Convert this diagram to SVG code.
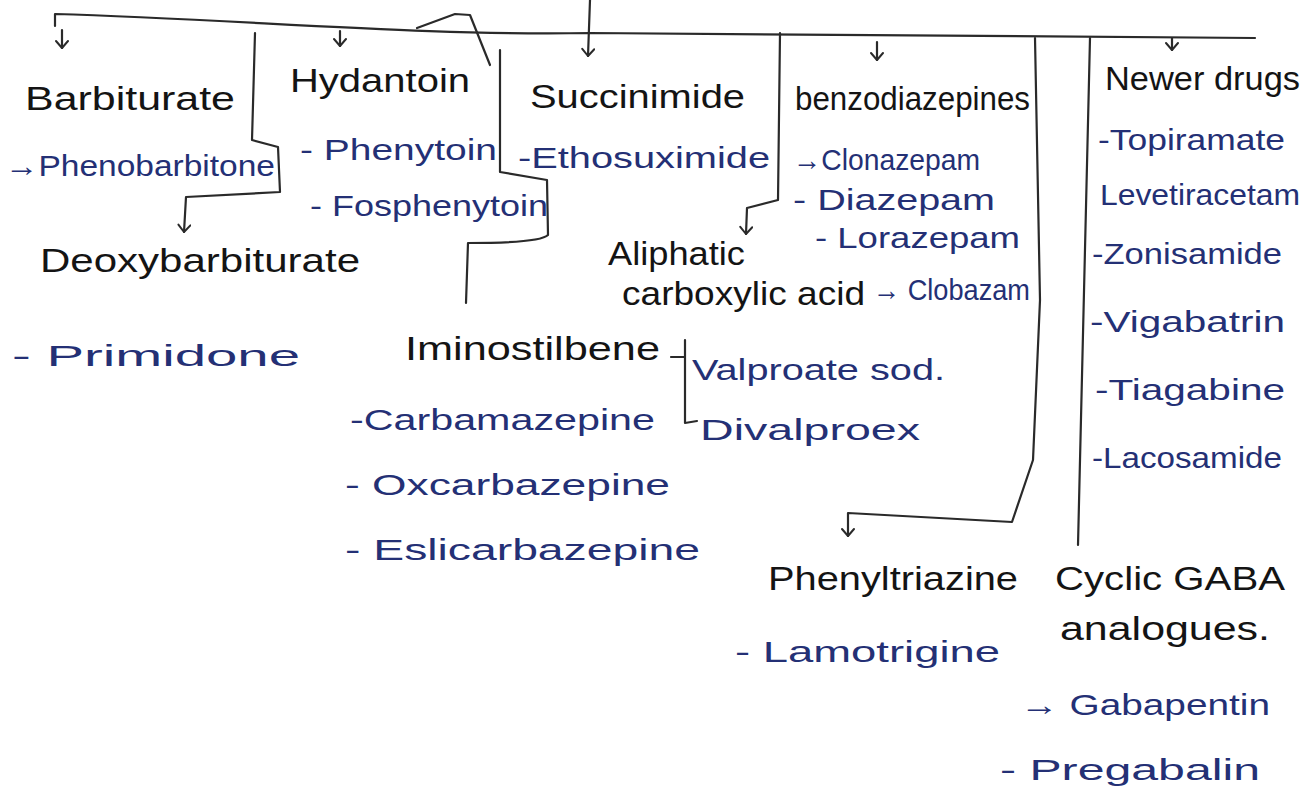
<svg xmlns="http://www.w3.org/2000/svg" width="1309" height="810" viewBox="0 0 1309 810">
<style>
.h{font-family:"Liberation Sans","DejaVu Sans",sans-serif;fill:#141414;font-size:34px}
.d{font-family:"Liberation Sans","DejaVu Sans",sans-serif;fill:#243075;font-size:30px}
.ln{fill:none;stroke:#2a2a2a;stroke-width:2.2;stroke-linecap:round;stroke-linejoin:round}
</style>
<defs>
<marker id="ah" viewBox="0 0 14 14" refX="12" refY="7" markerWidth="14" markerHeight="14" markerUnits="userSpaceOnUse" orient="auto">
<path d="M5,1 L12,7 L5,13" fill="none" stroke="#2a2a2a" stroke-width="2" stroke-linecap="round" stroke-linejoin="round"/>
</marker>
</defs>
<rect width="1309" height="810" fill="#ffffff"/>
<g id="connectors">
<path class="ln" d="M55,26 L55,14 C250,20 420,36 590,33 L1255,38"/>
<path class="ln" d="M590,0 L588,56" marker-end="url(#ah)"/>
<path class="ln" d="M62,30 L62,48" marker-end="url(#ah)"/>
<path class="ln" d="M340,31 L340,46" marker-end="url(#ah)"/>
<path class="ln" d="M877,42 L877,60" marker-end="url(#ah)"/>
<path class="ln" d="M1172,38 L1172,50" marker-end="url(#ah)"/>
<path class="ln" d="M417,28 L455,14 L470,15 L490,65"/>
<path class="ln" d="M255,33 L252,140 L278,147 L280,192 L186,197 L184,232" marker-end="url(#ah)"/>
<path class="ln" d="M500,50 L500,172 L547,180 L548,235 Q540,243 468,243 L466,303"/>
<path class="ln" d="M780,33 L778,200 L747,208 L746,234" marker-end="url(#ah)"/>
<path class="ln" d="M1035,38 L1040,300 L1033,460 L1012,522 L848,513 L848,536" marker-end="url(#ah)"/>
<path class="ln" d="M1090,38 L1078,545"/>
<path class="ln" d="M671,357 L685,357 M685,340 L685,423 L697,421"/>
</g>
<g id="barbiturate">
<text class="h" x="25" y="110" textLength="210" lengthAdjust="spacingAndGlyphs">Barbiturate</text>
<text class="d" x="5" y="176" textLength="270" lengthAdjust="spacingAndGlyphs">→Phenobarbitone</text>
</g>
<g id="deoxybarbiturate">
<text class="h" x="40" y="272" textLength="320" lengthAdjust="spacingAndGlyphs">Deoxybarbiturate</text>
<text class="d" x="12" y="366" textLength="288" lengthAdjust="spacingAndGlyphs">- Primidone</text>
</g>
<g id="hydantoin">
<text class="h" x="290" y="92" textLength="180" lengthAdjust="spacingAndGlyphs">Hydantoin</text>
<text class="d" x="300" y="160" textLength="197" lengthAdjust="spacingAndGlyphs">- Phenytoin</text>
<text class="d" x="310" y="216" textLength="238" lengthAdjust="spacingAndGlyphs">- Fosphenytoin</text>
</g>
<g id="succinimide">
<text class="h" x="530" y="108" textLength="215" lengthAdjust="spacingAndGlyphs">Succinimide</text>
<text class="d" x="518" y="168" textLength="252" lengthAdjust="spacingAndGlyphs">-Ethosuximide</text>
</g>
<g id="benzodiazepines">
<text class="h" x="795" y="110" font-size="30" textLength="235" lengthAdjust="spacingAndGlyphs">benzodiazepines</text>
<text class="d" x="793" y="170" textLength="187" lengthAdjust="spacingAndGlyphs">→Clonazepam</text>
<text class="d" x="793" y="210" textLength="202" lengthAdjust="spacingAndGlyphs">- Diazepam</text>
<text class="d" x="815" y="248" textLength="205" lengthAdjust="spacingAndGlyphs">- Lorazepam</text>
<text class="d" x="873" y="300" textLength="157" lengthAdjust="spacingAndGlyphs">→ Clobazam</text>
</g>
<g id="aliphatic">
<text class="h" x="608" y="265" font-size="30" textLength="137" lengthAdjust="spacingAndGlyphs">Aliphatic</text>
<text class="h" x="622" y="305" font-size="30" textLength="243" lengthAdjust="spacingAndGlyphs">carboxylic acid</text>
<text class="d" x="692" y="380" textLength="253" lengthAdjust="spacingAndGlyphs">Valproate sod.</text>
<text class="d" x="700" y="440" textLength="220" lengthAdjust="spacingAndGlyphs">Divalproex</text>
</g>
<g id="iminostilbene">
<text class="h" x="405" y="360" textLength="255" lengthAdjust="spacingAndGlyphs">Iminostilbene</text>
<text class="d" x="350" y="430" textLength="305" lengthAdjust="spacingAndGlyphs">-Carbamazepine</text>
<text class="d" x="345" y="495" textLength="325" lengthAdjust="spacingAndGlyphs">- Oxcarbazepine</text>
<text class="d" x="345" y="560" textLength="355" lengthAdjust="spacingAndGlyphs">- Eslicarbazepine</text>
</g>
<g id="phenyltriazine">
<text class="h" x="768" y="590" textLength="250" lengthAdjust="spacingAndGlyphs">Phenyltriazine</text>
<text class="d" x="735" y="662" textLength="265" lengthAdjust="spacingAndGlyphs">- Lamotrigine</text>
</g>
<g id="cyclic-gaba">
<text class="h" x="1055" y="590" textLength="230" lengthAdjust="spacingAndGlyphs">Cyclic GABA</text>
<text class="h" x="1060" y="640" textLength="210" lengthAdjust="spacingAndGlyphs">analogues.</text>
<text class="d" x="1020" y="715" textLength="250" lengthAdjust="spacingAndGlyphs">→ Gabapentin</text>
<text class="d" x="1000" y="780" textLength="260" lengthAdjust="spacingAndGlyphs">- Pregabalin</text>
</g>
<g id="newer-drugs">
<text class="h" x="1105" y="90" textLength="195" lengthAdjust="spacingAndGlyphs">Newer drugs</text>
<text class="d" x="1098" y="150" textLength="187" lengthAdjust="spacingAndGlyphs">-Topiramate</text>
<text class="d" x="1100" y="205" textLength="200" lengthAdjust="spacingAndGlyphs">Levetiracetam</text>
<text class="d" x="1092" y="264" textLength="190" lengthAdjust="spacingAndGlyphs">-Zonisamide</text>
<text class="d" x="1090" y="332" textLength="195" lengthAdjust="spacingAndGlyphs">-Vigabatrin</text>
<text class="d" x="1095" y="400" textLength="190" lengthAdjust="spacingAndGlyphs">-Tiagabine</text>
<text class="d" x="1092" y="468" textLength="190" lengthAdjust="spacingAndGlyphs">-Lacosamide</text>
</g>
</svg>
